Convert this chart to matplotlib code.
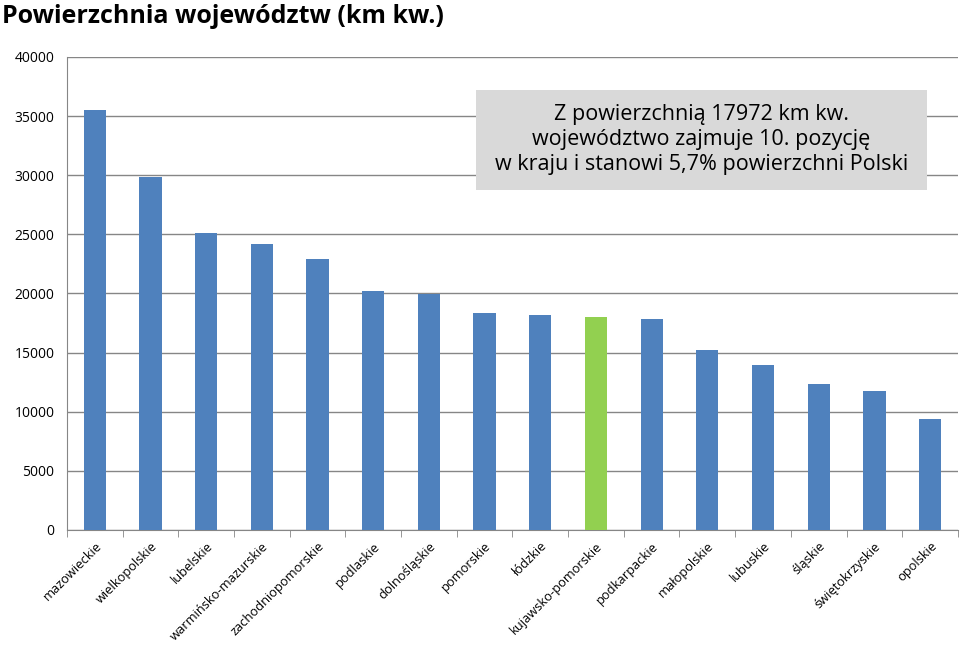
import matplotlib.pyplot as plt
import matplotlib.patches as mpatches
import numpy as np

plt.rcParams['font.family'] = ['Open Sans', 'DejaVu Sans']

regions = ['mazowieckie', 'wielkopolskie', 'lubelskie', 'warmińsko-mazurskie',
           'zachodniopomorskie', 'podlaskie', 'dolnośląskie', 'pomorskie',
           'łódzkie', 'kujawsko-pomorskie', 'podkarpackie', 'małopolskie',
           'lubuskie', 'śląskie', 'świętokrzyskie', 'opolskie']
area = [35558, 29826, 25122, 24173, 22892, 20187, 19947, 18310,
        18219, 17972, 17846, 15183, 13988, 12333, 11711, 9412]
highlight = 'kujawsko-pomorskie'

colors = ['#92d050' if r == highlight else '#4f81bd' for r in regions]

fig = plt.figure(figsize=(9.6, 6.46), dpi=100)
ax = fig.add_axes([0.0698, 0.1796, 0.928, 0.7322])
x = np.arange(len(regions))
ax.bar(x, area, width=0.4, color=colors, zorder=3)

ax.set_xlim(-0.5, len(regions) - 0.5)
ax.set_ylim(0, 40000)
ax.set_yticks(np.arange(0, 40001, 5000))
ax.yaxis.grid(True, color='#868686', linewidth=1, zorder=0)
ax.tick_params(axis='y', length=0, labelsize=10, pad=9)

ax.set_xticks(x)
ax.set_xticklabels(regions, rotation=45, ha='right', rotation_mode='anchor', fontsize=9.3)
ax.set_xticks(np.arange(-0.5, len(regions)), minor=True)
ax.tick_params(axis='x', which='major', length=0, pad=7)
ax.tick_params(axis='x', which='minor', length=5, color='#868686')

for s in ['top', 'right']:
    ax.spines[s].set_visible(False)
ax.spines['left'].set_color('#868686')
ax.spines['bottom'].set_color('#868686')

# grey note box
ax.add_patch(mpatches.Rectangle((0.459, 0.719), 0.506, 0.211, transform=ax.transAxes,
                                facecolor='#d9d9d9', edgecolor='none', zorder=4))
ax.text(0.712, 0.8245,
        'Z powierzchnią 17972 km kw.\nwojewództwo zajmuje 10. pozycję\nw kraju i stanowi 5,7% powierzchni Polski',
        transform=ax.transAxes, ha='center', va='center', fontsize=15.5,
        linespacing=1.25, zorder=5)

fig.text(0.002, 0.975, 'Powierzchnia województw (km kw.)', fontsize=18,
         fontweight='bold', ha='left', va='center')

fig.savefig('out.png', dpi=100)
